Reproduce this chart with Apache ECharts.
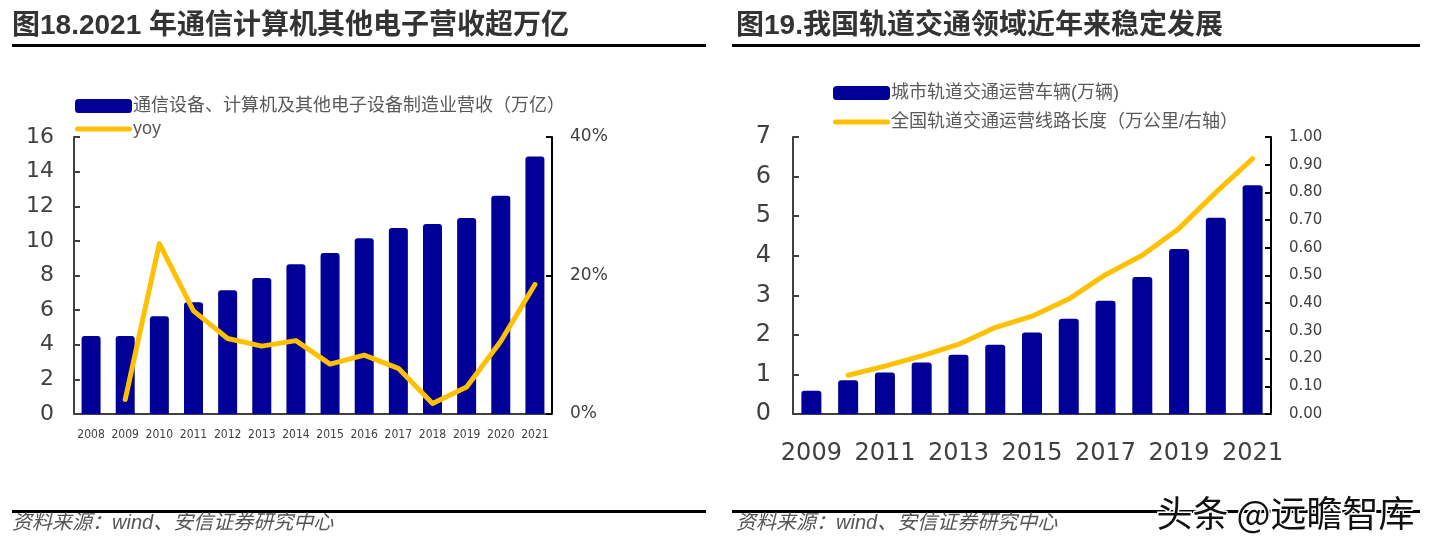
<!DOCTYPE html>
<html>
<head>
<meta charset="utf-8">
<script src="https://cdn.jsdelivr.net/npm/echarts@6/dist/echarts.min.js"></script>
<style>
html,body{margin:0;padding:0;background:#fff;}
#c{width:1439px;height:545px;}
</style>
</head>
<body>
<div id="c"></div>
<script>
// ---- Left chart data ----
var leftYears = ['2008','2009','2010','2011','2012','2013','2014','2015','2016','2017','2018','2019','2020','2021'];
var leftRevenue = [4.5, 4.5, 5.65, 6.45, 7.15, 7.85, 8.65, 9.3, 10.15, 10.75, 10.98, 11.32, 12.6, 14.88];
var leftYoy = [null, 2.1, 24.6, 14.9, 10.9, 9.8, 10.6, 7.2, 8.5, 6.6, 1.5, 3.9, 10.5, 18.7];
var leftBarName = '通信设备、计算机及其他电子设备制造业营收（万亿）';
var leftLineName = 'yoy';
var leftTitle = '图18.2021 年通信计算机其他电子营收超万亿';

// ---- Right chart data ----
var rightYears = ['2009','2010','2011','2012','2013','2014','2015','2016','2017','2018','2019','2020','2021'];
var rightVehicles = [0.59, 0.85, 1.05, 1.3, 1.5, 1.75, 2.06, 2.41, 2.86, 3.46, 4.17, 4.96, 5.78];
var rightLength = [null, 0.14, 0.173, 0.21, 0.251, 0.312, 0.353, 0.415, 0.503, 0.573, 0.67, 0.80, 0.922];
var rightBarName = '城市轨道交通运营车辆(万辆)';
var rightLineName = '全国轨道交通运营线路长度（万公里/右轴）';
var rightTitle = '图19.我国轨道交通领域近年来稳定发展';

var sourceText = '资料来源：wind、安信证券研究中心';
var watermark = '头条 @远瞻智库';

var BLUE = '#000099', GOLD = '#FFC000', AX = '#404040', TXT = '#595959';
var CJK = 'Liberation Sans, Noto Sans CJK SC';
var LINE_ICON = 'path://M2.5,0 L54.5,0 A2.5,2.5 0 0 1 54.5,5 L2.5,5 A2.5,2.5 0 0 1 2.5,0 Z';

var chart = echarts.init(document.getElementById('c'), null, {renderer: 'canvas'});

function yAxisBase(extra) {
  var o = {
    type: 'value',
    splitLine: {show: false},
    axisLine: {show: true, lineStyle: {color: AX, width: 2}},
    axisTick: {show: true, inside: true, length: 6, lineStyle: {color: AX, width: 2}}
  };
  for (var k in extra) o[k] = extra[k];
  return o;
}

var option = {
  animation: false,
  backgroundColor: '#fff',
  legend: [
    {
      data: [
        {name: leftBarName, icon: 'roundRect'},
        {name: leftLineName, icon: LINE_ICON, itemStyle: {color: GOLD}}
      ],
      orient: 'vertical', left: 70, top: 92, itemWidth: 57, itemHeight: 14, itemGap: 5,
      symbolKeepAspect: true,
      textStyle: {color: TXT, fontSize: 18, fontFamily: CJK, padding: [0,0,0,-4]}
    },
    {
      data: [
        {name: rightBarName, icon: 'roundRect'},
        {name: rightLineName, icon: LINE_ICON, itemStyle: {color: GOLD}}
      ],
      orient: 'vertical', left: 828, top: 79, itemWidth: 57, itemHeight: 14, itemGap: 11,
      symbolKeepAspect: true,
      textStyle: {color: TXT, fontSize: 18, fontFamily: CJK, padding: [0,0,0,-4]}
    }
  ],
  grid: [
    {left: 74, top: 137, width: 478, height: 277},
    {left: 793, top: 137, width: 478, height: 277}
  ],
  xAxis: [
    {
      type: 'category', gridIndex: 0, data: leftYears,
      axisLine: {lineStyle: {color: AX, width: 2}},
      axisTick: {inside: true, length: 6, lineStyle: {color: AX, width: 2}},
      axisLabel: {interval: 0, color: AX, fontSize: 12, fontFamily: 'DejaVu Sans Condensed', margin: 15}
    },
    {
      type: 'category', gridIndex: 1, data: rightYears,
      axisLine: {lineStyle: {color: AX, width: 2}},
      axisTick: {inside: true, length: 6, lineStyle: {color: AX, width: 2}},
      axisLabel: {interval: 1, color: AX, fontSize: 24, fontFamily: 'DejaVu Sans', margin: 28}
    }
  ],
  yAxis: [
    yAxisBase({gridIndex: 0, min: 0, max: 16, interval: 2,
      axisLabel: {color: AX, fontSize: 22, fontFamily: 'DejaVu Sans', margin: 20}}),
    yAxisBase({gridIndex: 0, min: 0, max: 40, interval: 20, position: 'right',
      axisLine: {show: true, lineStyle: {color: '#000', width: 2}},
      axisTick: {show: true, inside: true, length: 6, lineStyle: {color: '#000', width: 2}},
      axisLabel: {color: AX, fontSize: 17, fontFamily: 'DejaVu Sans', margin: 18,
        formatter: function (v) { return v + '%'; }}}),
    yAxisBase({gridIndex: 1, min: 0, max: 7, interval: 1,
      axisLabel: {color: AX, fontSize: 24, fontFamily: 'DejaVu Sans', margin: 22}}),
    yAxisBase({gridIndex: 1, min: 0, max: 1, interval: 0.1, position: 'right',
      axisLine: {show: true, lineStyle: {color: '#000', width: 2}},
      axisTick: {show: true, inside: true, length: 6, lineStyle: {color: '#000', width: 2}},
      axisLabel: {color: AX, fontSize: 15, fontFamily: 'DejaVu Sans', margin: 18,
        formatter: function (v) { return v.toFixed(2); }}})
  ],
  series: [
    {
      name: leftBarName, type: 'bar', xAxisIndex: 0, yAxisIndex: 0, data: leftRevenue,
      barWidth: 19, itemStyle: {color: BLUE, borderRadius: [3, 3, 0, 0]}
    },
    {
      name: leftLineName, type: 'line', xAxisIndex: 0, yAxisIndex: 1, data: leftYoy,
      symbol: 'none', lineStyle: {color: GOLD, width: 5, cap: 'round', join: 'round'},
      itemStyle: {color: GOLD}
    },
    {
      name: rightBarName, type: 'bar', xAxisIndex: 1, yAxisIndex: 2, data: rightVehicles,
      barWidth: 20, itemStyle: {color: BLUE, borderRadius: [3, 3, 0, 0]}
    },
    {
      name: rightLineName, type: 'line', xAxisIndex: 1, yAxisIndex: 3, data: rightLength,
      symbol: 'none', lineStyle: {color: GOLD, width: 5, cap: 'round', join: 'round'},
      itemStyle: {color: GOLD}
    }
  ],
  graphic: [
    {type: 'text', left: 12, top: 12, style: {text: leftTitle, fill: '#333', fontSize: 28, fontWeight: 'bold', fontFamily: CJK}},
    {type: 'text', left: 736, top: 12, style: {text: rightTitle, fill: '#333', fontSize: 28, fontWeight: 'bold', fontFamily: CJK}},
    {type: 'rect', shape: {x: 12, y: 44, width: 694, height: 3}, style: {fill: '#000'}},
    {type: 'rect', shape: {x: 732, y: 44, width: 688, height: 3}, style: {fill: '#000'}},
    {type: 'rect', shape: {x: 12, y: 510, width: 694, height: 3}, style: {fill: '#000'}},
    {type: 'rect', shape: {x: 732, y: 510, width: 688, height: 3}, style: {fill: '#000'}},
    {type: 'text', left: 12, top: 513, style: {text: sourceText, fill: '#555', fontSize: 20, fontStyle: 'italic', fontFamily: CJK}},
    {type: 'text', left: 736, top: 513, style: {text: sourceText, fill: '#555', fontSize: 20, fontStyle: 'italic', fontFamily: CJK}},
    {type: 'text', left: 1155, top: 494, z: 100, style: {text: watermark, fill: '#111', stroke: '#fff', lineWidth: 3, fontSize: 36, fontFamily: 'Noto Sans CJK SC'}}
  ]
};
chart.setOption(option);
</script>
</body>
</html>
